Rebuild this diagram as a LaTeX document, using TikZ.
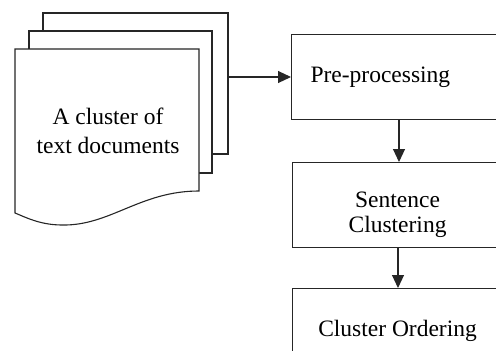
\documentclass[tikz,border=0pt]{standalone}
\usepackage{fontspec}
\setmainfont{Liberation Serif}
\usetikzlibrary{arrows.meta,positioning}
\tikzset{
    outline/.style={draw=black!85, line width=1.1pt},
    stepbox/.style={outline, fill=white, minimum height=85pt, inner sep=0pt},
    flow/.style={outline, -{Triangle[length=13pt,width=12pt]}}
}

\begin{document}
\begin{tikzpicture}[x=1pt, y=-1pt, font=\fontsize{23.5}{25}\selectfont]
    \useasboundingbox (0,0) rectangle (496,351);
    \clip (0,0) rectangle (496,351);

    % Stack of documents
    \draw[outline, fill=white] (43,13) rectangle (228,154);
    \draw[outline, fill=white] (29,31) rectangle (212,173);
    \draw[outline, fill=white] (15,49) -- (199,49) -- (199,191)
        .. controls (140,191) and (110,226) .. (62,225)
        .. controls (40,225) and (25,217) .. (15,213) -- cycle;
    \node[align=center, font=\fontsize{23.5}{29}\selectfont] (docs) at (108,131)
        {A cluster of\\text documents};
    \coordinate (docsout) at (228,77);

    % Processing steps
    \node[stepbox, anchor=north west, minimum width=238pt, text width=200pt,
          align=left, inner xsep=19pt] (pre) at (291,34) {Pre-processing};
    \node[stepbox, anchor=north west, minimum width=210pt,
          label={[align=center, yshift=-10pt]center:Sentence\\Clustering}]
          (clus) at (292,162) {};
    \node[stepbox, anchor=north west, minimum width=210pt] (order) at (292,288)
        {Cluster Ordering};

    % Arrows
    \draw[flow] (docsout) -- (pre.west |- docsout);
    \draw[flow] (pre.south -| 399,0) -- (clus.north -| 399,0);
    \draw[flow] (clus.south -| 398,0) -- (order.north -| 398,0);
\end{tikzpicture}
\end{document}
